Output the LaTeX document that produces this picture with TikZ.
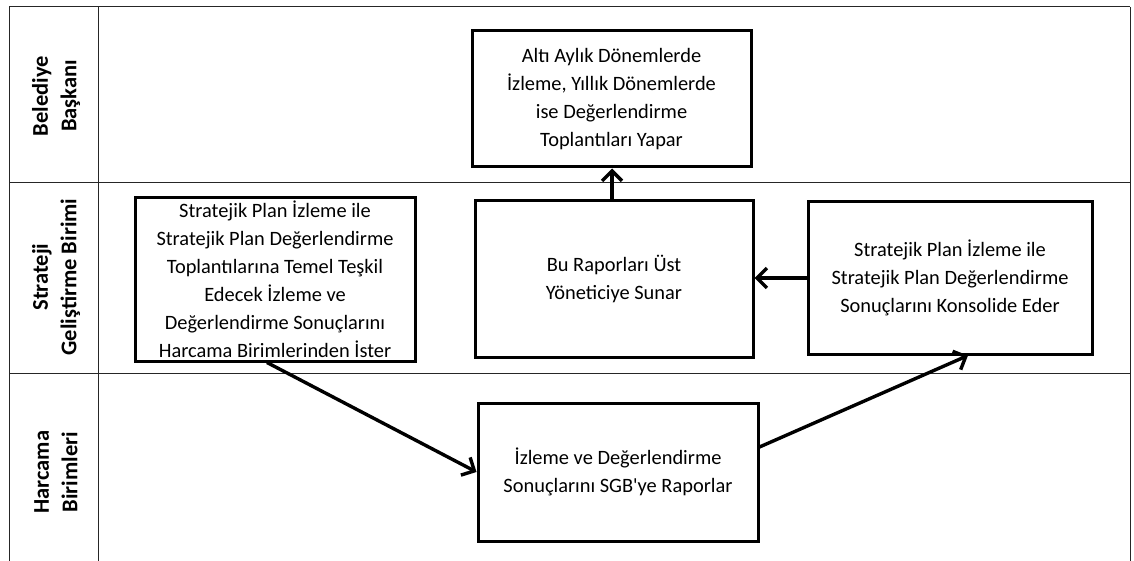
\documentclass[tikz,border=0pt]{standalone}
\usepackage{fontspec}
\setmainfont{Carlito}
\usetikzlibrary{arrows.meta,calc}
\tikzset{
  frame/.style={line width=1pt, draw=black!85},
  procbox/.style={draw, line width=3pt, align=center, inner sep=0pt,
    font=\fontsize{20.4}{28}\selectfont},
  lanelabel/.style={rotate=90, align=center, font=\bfseries\fontsize{22.5}{28.5}\selectfont},
  flow/.style={line width=3.4pt, -{Straight Barb[length=10pt,width=20pt]}}
}
\begin{document}
\begin{tikzpicture}[x=1pt,y=-1pt]
\useasboundingbox (0,0) rectangle (1134,561);
% table frame
\draw[frame] (9,7) -- (1130,7);
\draw[frame] (9,183) -- (1130,183);
\draw[frame] (9,373) -- (1130,373);
\draw[frame] (9,7) -- (9,561);
\draw[frame] (98,7) -- (98,561);
\draw[frame] (1130,7) -- (1130,561);
% lane labels
\node[lanelabel] (lab1) at (56,96) {Belediye\\Başkanı};
\node[lanelabel] (lab2) at (56,277) {Strateji\\Geliştirme Birimi};
\node[lanelabel] (lab3) at (56,472) {Harcama\\Birimleri};
% process boxes
\node[procbox, minimum width=279pt, minimum height=136pt] (top) at (611.5,99)
  {Altı Aylık Dönemlerde\\İzleme, Yıllık Dönemlerde\\ise Değerlendirme\\Toplantıları Yapar};
\node[procbox, minimum width=280pt, minimum height=163pt] (L) at (275,279.5)
  {Stratejik Plan İzleme ile\\Stratejik Plan Değerlendirme\\Toplantılarına Temel Teşkil\\Edecek İzleme ve\\Değerlendirme Sonuçlarını\\Harcama Birimlerinden İster};
\node[procbox, minimum width=278pt, minimum height=156pt] (M) at (614,279)
  {Bu Raporları Üst\\Yöneticiye Sunar};
\node[procbox, minimum width=284pt, minimum height=152pt] (R) at (950,278)
  {Stratejik Plan İzleme ile\\Stratejik Plan Değerlendirme\\Sonuçlarını Konsolide Eder};
\node[procbox, minimum width=280pt, minimum height=138pt] (B) at (618,472)
  {İzleme ve Değerlendirme\\Sonuçlarını SGB\textquotesingle ye Raporlar};
% connectors
\draw[flow] ($(L.south)+(-8,0)$) -- (B.west);
\draw[flow] ($(B.east)+(0,-25)$) -- ($(R.south)+(18,0)$);
\draw[flow] (R.west) -- (R.west -| M.east);
\draw[flow] ($(M.north)+(-2,0)$) -- ($(M.north |- top.south)+(-2,0)$);
\end{tikzpicture}
\end{document}
